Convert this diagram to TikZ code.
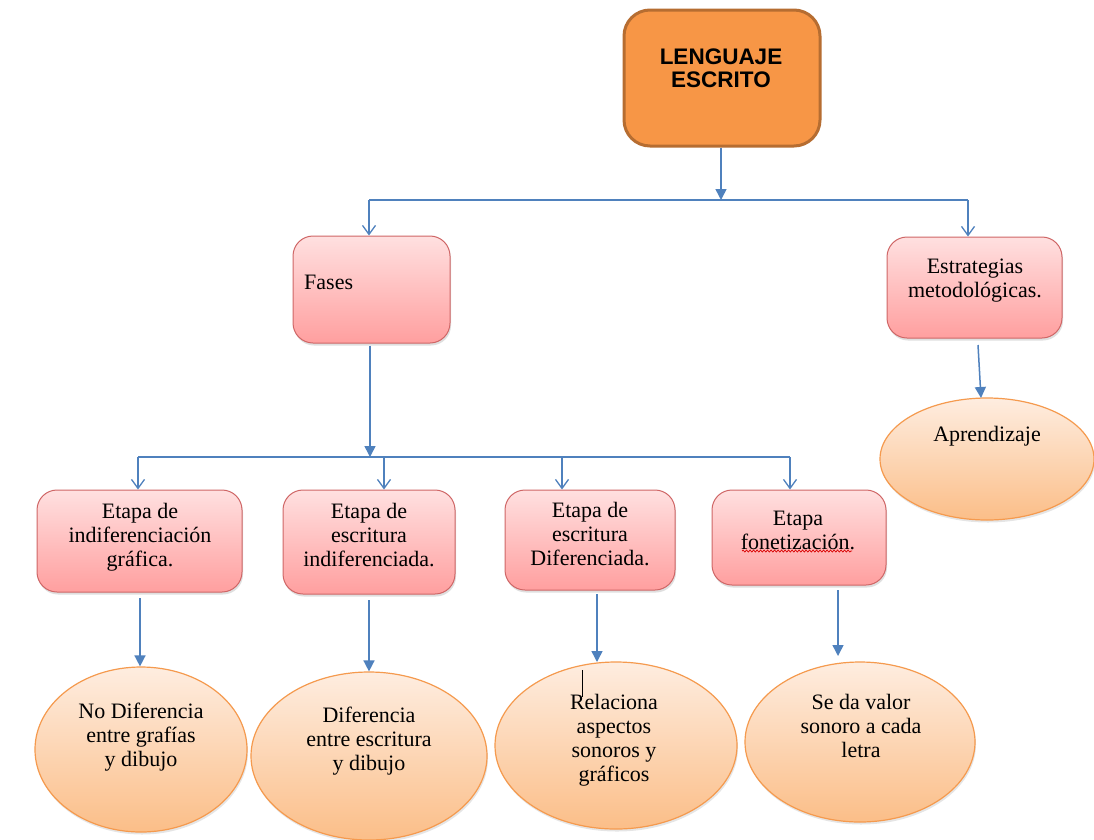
\documentclass[tikz,border=0pt]{standalone}
\usepackage{fontspec}
\setmainfont{Liberation Serif}
\newfontfamily\headfont{Liberation Sans}
\usetikzlibrary{arrows.meta,shadows,shapes.geometric,decorations.pathmorphing}
\definecolor{linkblue}{HTML}{4F81BD}
\definecolor{orangefill}{HTML}{F79646}
\definecolor{orangeedge}{HTML}{B66D31}
\definecolor{pinktop}{HTML}{FFE0E0}
\definecolor{pinkbot}{HTML}{FF9F9F}
\definecolor{pinkedge}{HTML}{CF6666}
\definecolor{peachtop}{HTML}{FEEDE0}
\definecolor{peachbot}{HTML}{FBBE88}
\definecolor{peachedge}{HTML}{F59A4E}
\tikzset{
  x=1pt, y=-1pt,
  rootbox/.style={draw=orangeedge, line width=3pt, fill=orangefill, rounded corners=26pt,
    minimum width=196pt, minimum height=136pt, inner sep=0pt},
  stagebox/.style={draw=pinkedge, line width=1pt, top color=pinktop, bottom color=pinkbot,
    rounded corners=20pt, inner sep=0pt,
    drop shadow={opacity=0.25, shadow xshift=1pt, shadow yshift=-2.5pt}},
  idea/.style={ellipse, draw=peachedge, line width=1.2pt, top color=peachtop, bottom color=peachbot,
    inner sep=0pt,
    drop shadow={opacity=0.2, shadow xshift=1pt, shadow yshift=-2.5pt}},
  txt/.style={align=center, font=\fontsize{22}{24}\selectfont, inner sep=0pt},
  link/.style={draw=linkblue, line width=1.5pt},
  solidtip/.style={link, -{Triangle[width=11pt,length=11pt]}},
  opentip/.style={link, -{Straight Barb[width=13pt,length=9pt,line width=1.3pt]}},
}
\begin{document}
\begin{tikzpicture}
\useasboundingbox (0,0) rectangle (1094,839);
\fill[white] (0,0) rectangle (1094,839);

% root
\node[rootbox] (root) at (722,78) {};
\node[align=center, inner sep=0pt, font=\headfont\bfseries\fontsize{22.5}{23}\selectfont] (roott) at (721,68) {LENGUAJE\\ESCRITO};

% first level
\node[stagebox, minimum width=157pt, minimum height=107pt] (fases) at (371.5,289.5) {};
\node[txt, anchor=west] (fasest) at (304,282) {Fases};
\node[stagebox, minimum width=175pt, minimum height=101pt] (estr) at (974.5,287.5) {};
\node[txt] (estrt) at (975,281) {Estrategias\\metodológicas.};

% stages
\node[stagebox, minimum width=205pt, minimum height=102pt] (s1) at (139.5,541) {};
\node[txt] (s1t) at (140,537) {Etapa de\\indiferenciación\\gráfica.};
\node[stagebox, minimum width=172pt, minimum height=104pt] (s2) at (369,542) {};
\node[txt] (s2t) at (369,535) {Etapa de\\escritura\\indiferenciada.};
\node[stagebox, minimum width=170pt, minimum height=100pt] (s3) at (590,540) {};
\node[txt] (s3t) at (590,534) {Etapa de\\escritura\\Diferenciada.};
\node[stagebox, minimum width=174pt, minimum height=95pt] (s4) at (799,537.5) {};
\node[txt] (s4t) at (798,530) {Etapa\\fonetización.};
\coordinate (wv1) at (742,551);
\coordinate (wv2) at (852,551);
\draw[red!85!black, line width=0.7pt, decorate, decoration={snake, amplitude=1pt, segment length=3.5pt}]
  (wv1) -- (wv2);

% outcomes
\node[idea, minimum width=212pt, minimum height=165pt] (o1) at (141,749.5) {};
\node[txt] (o1t) at (141,737) {No Diferencia\\entre grafías\\y dibujo};
\node[idea, minimum width=236pt, minimum height=168pt] (o2) at (369,756) {};
\node[txt] (o2t) at (369,741) {Diferencia\\entre escritura\\y dibujo};
\node[idea, minimum width=242pt, minimum height=167pt] (o3) at (616,745.5) {};
\node[txt] (o3t) at (614,740) {Relaciona\\aspectos\\sonoros y\\gráficos};
\node[idea, minimum width=230pt, minimum height=160pt] (o4) at (860,742) {};
\node[txt] (o4t) at (861,726) {Se da valor\\sonoro a cada\\letra};
\node[idea, minimum width=214pt, minimum height=122pt] (o5) at (987,459) {};
\node[txt] (o5t) at (987,436) {Aprendizaje};

% text cursor
\coordinate (cur1) at (582,670);
\coordinate (cur2) at (582,697);
\draw[black, line width=0.8pt] (cur1) -- (cur2);

% top bus
\coordinate (busA) at (721,200);
\coordinate (busL) at (369,200);
\coordinate (busR) at (968,200);
\draw[solidtip] (root.south -| busA) -- (busA);
\draw[link] (busL) -- (busR);
\draw[opentip] (busL) -- (busL |- fases.north);
\draw[opentip] (busR) -- (busR |- estr.north);

% stage bus
\coordinate (busB) at (370,457);
\coordinate (bus1) at (138,457);
\coordinate (bus2) at (384,457);
\coordinate (bus3) at (562,457);
\coordinate (bus4) at (790,457);
\draw[solidtip] ([yshift=-2pt]fases.south -| busB) -- (busB);
\draw[link] (bus1) -- (bus4);
\draw[opentip] (bus1) -- (bus1 |- s1.north);
\draw[opentip] (bus2) -- (bus2 |- s2.north);
\draw[opentip] (bus3) -- (bus3 |- s3.north);
\draw[opentip] (bus4) -- (bus4 |- s4.north);

% stage to outcome
\coordinate (t1) at (140,598);
\coordinate (t2) at (369,600);
\coordinate (t3) at (597,594);
\coordinate (h3) at (597,662);
\coordinate (t4) at (838,590);
\coordinate (h4) at (838,656);
\coordinate (t5) at (978,345);
\coordinate (h5) at (981,398);
\draw[solidtip] (t1) -- (t1 |- o1.north);
\draw[solidtip] (t2) -- (t2 |- o2.north);
\draw[solidtip] (t3) -- (h3);
\draw[solidtip] (t4) -- (h4);
\draw[solidtip] (t5) -- (h5);
\end{tikzpicture}
\end{document}
